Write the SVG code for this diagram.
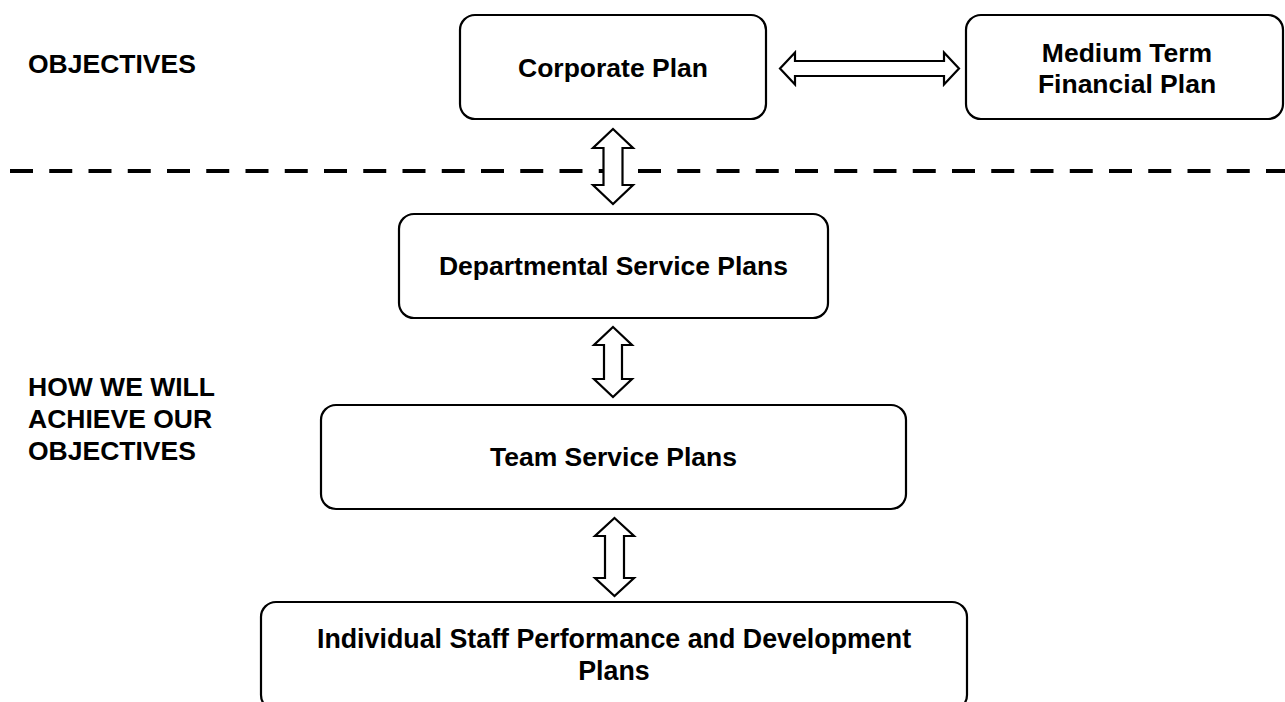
<svg xmlns="http://www.w3.org/2000/svg" width="1285" height="702" viewBox="0 0 1285 702">
  <style>
    .box { fill: #ffffff; stroke: #000000; stroke-width: 2.2; }
    .arrow { fill: #ffffff; stroke: #000000; stroke-width: 2.2; stroke-linejoin: miter; }
    .lbl { font-family: "Liberation Sans", Arial, sans-serif; font-weight: bold; font-size: 26.5px; fill: #000000; }
    .mid { text-anchor: middle; }
    .divider { stroke: #000000; stroke-width: 4; stroke-dasharray: 23 16.25; fill: none; }
  </style>
  <rect width="1285" height="702" fill="#ffffff"/>

  <g id="section-labels">
    <text class="lbl" x="28" y="73">OBJECTIVES</text>
    <text class="lbl" x="28" y="396">HOW WE WILL</text>
    <text class="lbl" x="28" y="428">ACHIEVE OUR</text>
    <text class="lbl" x="28" y="460">OBJECTIVES</text>
  </g>

  <line class="divider" x1="10" y1="171" x2="1285" y2="171"/>

  <g id="corporate-plan">
    <rect class="box" x="460" y="15" width="306" height="104" rx="15" ry="15"/>
    <text class="lbl mid" x="613" y="77">Corporate Plan</text>
  </g>

  <g id="medium-term-financial-plan">
    <rect class="box" x="966" y="15" width="317" height="104" rx="15" ry="15"/>
    <text class="lbl mid" x="1127" y="62">Medium Term</text>
    <text class="lbl mid" x="1127" y="93">Financial Plan</text>
  </g>

  <g id="departmental-service-plans">
    <rect class="box" x="399" y="214" width="429" height="104" rx="15" ry="15"/>
    <text class="lbl mid" x="613.5" y="275">Departmental Service Plans</text>
  </g>

  <g id="team-service-plans">
    <rect class="box" x="321" y="405" width="585" height="104" rx="15" ry="15"/>
    <text class="lbl mid" x="613.5" y="466">Team Service Plans</text>
  </g>

  <g id="individual-plans">
    <rect class="box" x="261" y="602" width="706" height="108" rx="15" ry="15"/>
    <text class="lbl mid" x="614" y="648" style="font-size:26.8px">Individual Staff Performance and Development</text>
    <text class="lbl mid" x="614" y="680" style="font-size:26.8px">Plans</text>
  </g>

  <g id="connectors">
    <path class="arrow" d="M780,68.5 L795,52.5 L795,61 L944,61 L944,52.5 L959,68.5 L944,84.5 L944,76 L795,76 L795,84.5 Z"/>
    <path class="arrow" d="M613,129 L633,148 L622.5,148 L622.5,185 L633,185 L613,204 L593,185 L603.5,185 L603.5,148 L593,148 Z"/>
    <path class="arrow" d="M613,327 L632,345 L622,345 L622,379 L632,379 L613,397 L594,379 L604,379 L604,345 L594,345 Z"/>
    <path class="arrow" d="M614.5,518 L634,536 L624,536 L624,578 L634,578 L614.5,596 L595,578 L605,578 L605,536 L595,536 Z"/>
  </g>
</svg>
